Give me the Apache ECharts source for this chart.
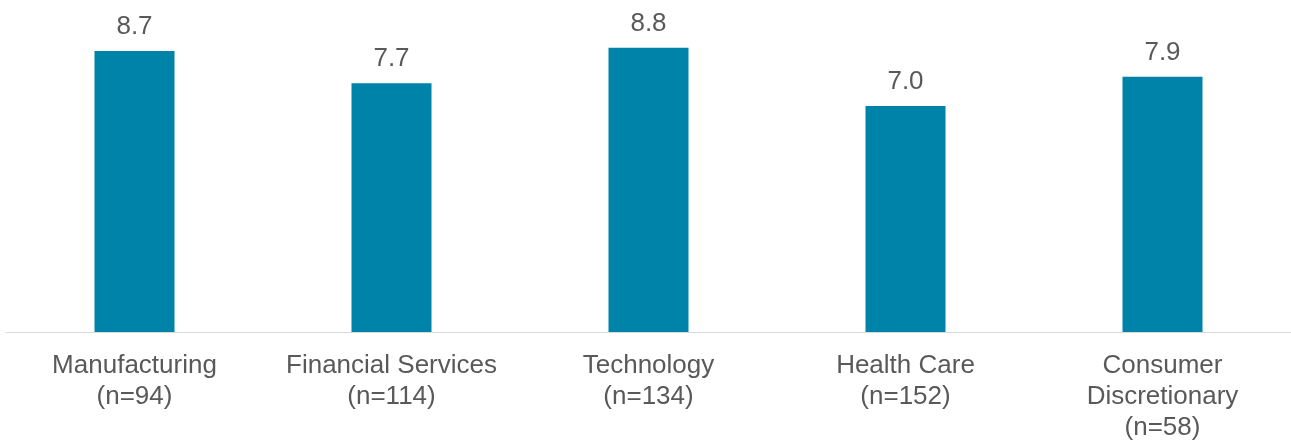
<!DOCTYPE html>
<html>
<head>
<meta charset="utf-8">
<script src="https://cdn.jsdelivr.net/npm/echarts@6/dist/echarts.min.js"></script>
<style>
  html, body { margin: 0; padding: 0; background: #ffffff; }
  #chart { width: 1291px; height: 443px; }
</style>
</head>
<body>
<div id="chart"></div>
<script>
// Sector names with sample sizes, and the average score per sector
const sectors = ['Manufacturing\n(n=94)', 'Financial Services\n(n=114)', 'Technology\n(n=134)', 'Health Care\n(n=152)', 'Consumer\nDiscretionary\n(n=58)'];
const scores = [8.7, 7.7, 8.8, 7.0, 7.9];

const textColor = '#595959';
const fontFamily = '"Liberation Sans", Arial, sans-serif';

const chart = echarts.init(document.getElementById('chart'), null, { renderer: 'canvas' });
chart.setOption({
  animation: false,
  grid: { left: 6, right: 0, top: 9, bottom: 109, containLabel: false },
  xAxis: {
    type: 'category',
    data: sectors,
    axisLine: { show: true, lineStyle: { color: '#d9d9d9', width: 1 } },
    axisTick: { show: false },
    axisLabel: {
      color: textColor,
      fontFamily: fontFamily,
      fontSize: 26,
      lineHeight: 31,
      margin: 18,
      interval: 0
    }
  },
  yAxis: {
    type: 'value',
    min: 0,
    max: 10,
    show: false,
    splitLine: { show: false }
  },
  series: [{
    type: 'bar',
    data: scores,
    barWidth: 80,
    itemStyle: { color: '#0083a9' },
    label: {
      show: true,
      position: 'top',
      distance: 11,
      color: textColor,
      fontFamily: fontFamily,
      fontSize: 26,
      formatter: (p) => p.value.toFixed(1)
    }
  }]
});
</script>
</body>
</html>
